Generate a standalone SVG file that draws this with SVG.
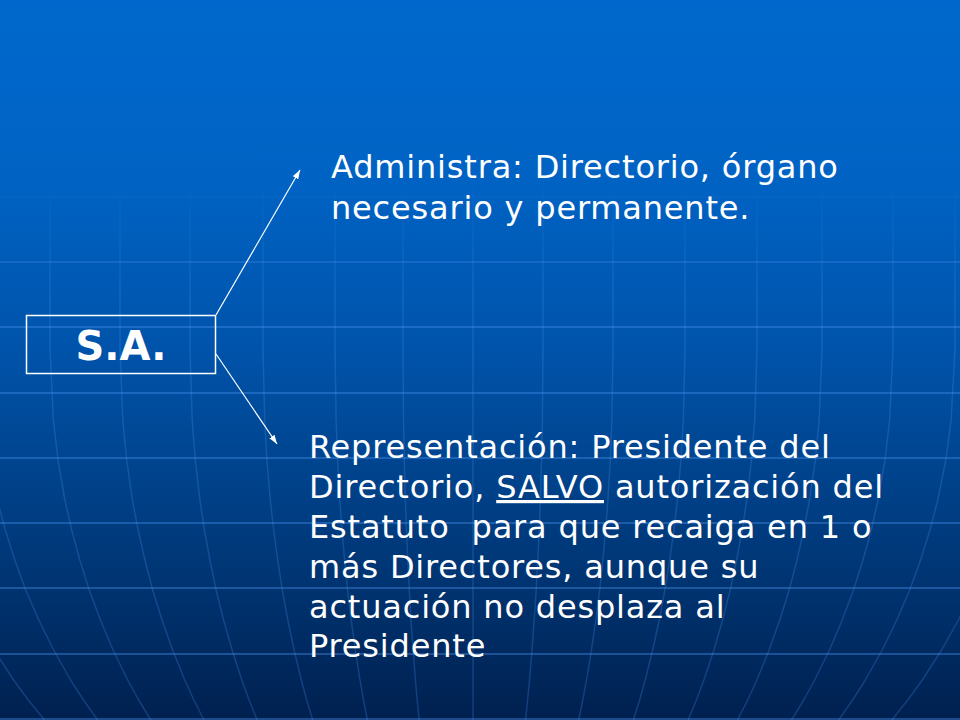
<svg xmlns="http://www.w3.org/2000/svg" width="960" height="720" viewBox="0 0 960 720">
  <defs>
    <linearGradient id="bg" x1="0" y1="0" x2="0" y2="1">
      <stop offset="0" stop-color="#0068cc"/>
      <stop offset="0.25" stop-color="#0063c4"/>
      <stop offset="0.5" stop-color="#0052a8"/>
      <stop offset="0.75" stop-color="#003a7c"/>
      <stop offset="1" stop-color="#00204f"/>
    </linearGradient>
    <linearGradient id="fade" gradientUnits="userSpaceOnUse" x1="0" y1="170" x2="0" y2="300">
      <stop offset="0" stop-color="#fff" stop-opacity="0"/>
      <stop offset="1" stop-color="#fff" stop-opacity="1"/>
    </linearGradient>
    <mask id="gridMask" maskUnits="userSpaceOnUse" x="0" y="0" width="960" height="720">
      <rect x="0" y="0" width="960" height="720" fill="url(#fade)"/>
    </mask>
    <marker id="arrow" viewBox="0 0 10 7" refX="10" refY="3.5" markerUnits="userSpaceOnUse" markerWidth="9" markerHeight="6.5" orient="auto">
      <path d="M0,0 L10,3.5 L0,7 z" fill="#ffffff"/>
    </marker>
    <style>
      .h { stroke: #4a94f0; stroke-opacity: 0.38; stroke-width: 2; fill: none; }
      .m { stroke: #4a94f0; stroke-opacity: 0.26; stroke-width: 1.5; fill: none; stroke-linejoin: round; }
      .txt { font-family: "DejaVu Sans", Verdana, sans-serif; font-size: 32px; fill: #ffffff; letter-spacing: 0.82px; }
      .title { font-family: "DejaVu Sans", Verdana, sans-serif; font-size: 40px; font-weight: bold; fill: #ffffff; }
      .conn { stroke: #ffffff; stroke-width: 1.2; fill: none; }
    </style>
  </defs>

  <rect id="background" x="0" y="0" width="960" height="720" fill="url(#bg)"/>

  <g id="globe-grid" mask="url(#gridMask)">
    <line class="h" x1="0" y1="197" x2="960" y2="197"/>
    <line class="h" x1="0" y1="262" x2="960" y2="262"/>
    <line class="h" x1="0" y1="327" x2="960" y2="327"/>
    <line class="h" x1="0" y1="393" x2="960" y2="393"/>
    <line class="h" x1="0" y1="458" x2="960" y2="458"/>
    <line class="h" x1="0" y1="523" x2="960" y2="523"/>
    <line class="h" x1="0" y1="588" x2="960" y2="588"/>
    <line class="h" x1="0" y1="654" x2="960" y2="654"/>
    <line class="h" x1="0" y1="719" x2="960" y2="719"/>

    <polyline class="m" points="-90,180 -90,349 -85.5,420 -79.4,460 -70.1,500 -61.1,530 -50.2,560 -37.8,590 -22.8,620 -5.9,650 13.6,680 28.3,700 44.4,720"/>
    <polyline class="m" points="-20,180 -20,349 -16.1,420 -10.7,460 -2.6,500 5.3,530 14.8,560 25.7,590 38.8,620 53.6,650 70.6,680 83.5,700 97.6,720"/>
    <polyline class="m" points="50,180 50,349 53.4,420 58,460 64.9,500 71.7,530 79.8,560 89.2,590 100.4,620 113.1,650 127.7,680 138.7,700 150.8,720"/>
    <polyline class="m" points="120,180 120,349 122.8,420 126.7,460 132.4,500 138.1,530 144.9,560 152.7,590 162,620 172.6,650 184.75,680 193.9,700 204,720"/>
    <polyline class="m" points="190,180 190,349 192.2,420 195.3,460 199.9,500 204.4,530 209.9,560 216.1,590 223.6,620 232.1,650 241.8,680 249.1,700 257.2,720"/>
    <polyline class="m" points="263,180 263,349 264.7,420 266.9,460 270.3,500 273.7,530 277.7,560 282.3,590 287.8,620 294.1,650 301.3,680 306.7,700 312.7,720"/>
    <polyline class="m" points="335,180 335,349 336.1,420 337.6,460 339.8,500 342,530 344.6,560 347.6,590 351.2,620 355.3,650 360,680 363.5,700 367.4,720"/>
    <polyline class="m" points="403,180 403,349 403.5,420 404.3,460 405.4,500 406.5,530 407.8,560 409.3,590 411,620 413.1,650 415.4,680 417.2,700 419.1,720"/>
    <polyline class="m" points="473,180 473,720"/>
    <polyline class="m" points="543,180 543,349 542.4,420 541.6,460 540.4,500 539.2,530 537.8,560 536.2,590 534.2,620 532,650 529.5,680 527.6,700 525.5,720"/>
    <polyline class="m" points="613,180 613,349 611.9,420 610.3,460 607.9,500 605.6,530 602.8,560 599.7,590 595.8,620 591.5,650 586.5,680 582.8,700 578.7,720"/>
    <polyline class="m" points="685,180 685,349 683.3,420 680.9,460 677.4,500 673.9,530 669.7,560 664.9,590 659.2,620 652.7,650 645.2,680 639.6,700 633.4,720"/>
    <polyline class="m" points="757,180 757,349 754.7,420 751.5,460 746.8,500 742.2,530 736.6,560 730.2,590 722.6,620 713.9,650 703.9,680 696.4,700 688.1,720"/>
    <polyline class="m" points="822,180 822,349 819.2,420 815.3,460 809.5,500 803.8,530 797,560 789.2,590 779.8,620 769.1,650 756.9,680 747.7,700 737.5,720"/>
    <polyline class="m" points="893,180 893,349 889.6,420 885,460 878,500 871.2,530 863,560 853.5,590 842.2,620 829.5,650 814.7,680 803.7,700 791.5,720"/>
    <polyline class="m" points="955,180 955,349 951.1,420 945.8,460 937.8,500 930,530 920.6,560 909.7,590 896.8,620 882.2,650 865.3,680 852.6,700 838.6,720"/>
    <polyline class="m" points="1025,180 1025,349 1020.6,420 1014.5,460 1005.3,500 996.4,530 985.6,560 973.2,590 958.4,620 941.6,650 922.3,680 907.8,700 891.8,720"/>
  </g>

  <g id="connectors">
    <line class="conn" x1="216" y1="315" x2="300" y2="170" marker-end="url(#arrow)"/>
    <line class="conn" x1="216" y1="354" x2="277" y2="444" marker-end="url(#arrow)"/>
  </g>

  <g id="node-sa">
    <rect x="26.5" y="315.5" width="189" height="58" fill="none" stroke="#ffffff" stroke-width="1.5"/>
    <text class="title" x="121" y="360" text-anchor="middle">S.A.</text>
  </g>

  <g id="node-administra">
    <text class="txt" x="331" y="178">Administra: Directorio, órgano</text>
    <text class="txt" x="331" y="219">necesario y permanente.</text>
  </g>

  <g id="node-representacion">
    <text class="txt" x="309" y="458">Representación: Presidente del</text>
    <text class="txt" x="309" y="498">Directorio, <tspan text-decoration="underline">SALVO</tspan> autorización del</text>
    <text class="txt" x="309" y="538" xml:space="preserve">Estatuto  para que recaiga en 1 o</text>
    <text class="txt" x="309" y="578">más Directores, aunque su</text>
    <text class="txt" x="309" y="618">actuación no desplaza al</text>
    <text class="txt" x="309" y="657">Presidente</text>
  </g>
</svg>
